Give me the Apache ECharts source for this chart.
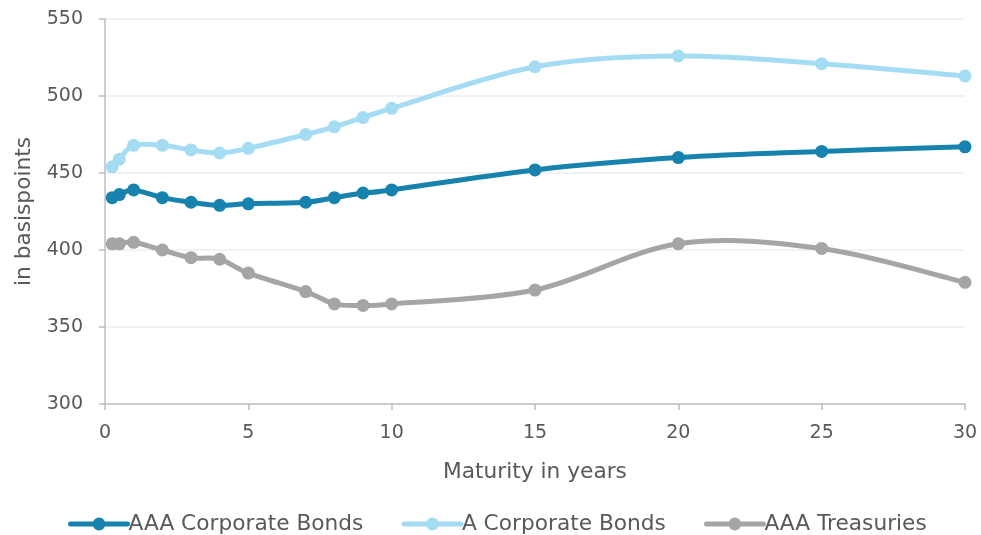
<!DOCTYPE html>
<html>
<head>
<meta charset="utf-8">
<style>
  html, body { margin: 0; padding: 0; background: #ffffff; }
  #chart { width: 981px; height: 535px; }
</style>
<script src="https://cdn.jsdelivr.net/npm/echarts@6/dist/echarts.min.js"></script>
</head>
<body>
<div id="chart"></div>
<script>
// Maturities in years (x positions of the curve points)
const maturities = [0.25, 0.5, 1, 2, 3, 4, 5, 7, 8, 9, 10, 15, 20, 25, 30];

// Yields in basis points per maturity
const aaaCorporate = [434, 436, 439, 434, 431, 429, 430, 431, 434, 437, 439, 452, 460, 464, 467];
const aCorporate   = [454, 459, 468, 468, 465, 463, 466, 475, 480, 486, 492, 519, 526, 521, 513];
const aaaTreasury  = [404, 404, 405, 400, 395, 394, 385, 373, 365, 364, 365, 374, 404, 401, 379];

const seriesNames = ['AAA Corporate Bonds', 'A Corporate Bonds', 'AAA Treasuries'];
const seriesColors = ['#1782ad', '#a3dcf3', '#a5a5a5'];
const seriesValues = [aaaCorporate, aCorporate, aaaTreasury];

const xTicks = { min: 0, max: 30, interval: 5 };
const yTicks = { min: 300, max: 550, interval: 50 };

const FONT = 'DejaVu Sans';
const TEXT = '#595959';
const AXIS = '#bfbfbf';
const LINE_W = 5;

// Catmull-Rom style curve: each item draws the segment from point i to i+1,
// with control points taken from the neighbouring points in pixel space.
function curveRenderer(values, color) {
  return function (params, api) {
    const i = params.dataIndex;
    const n = maturities.length;
    if (i >= n - 1) return null;
    const pt = k => api.coord([maturities[Math.max(0, Math.min(n - 1, k))],
                               values[Math.max(0, Math.min(n - 1, k))]]);
    const p0 = pt(i - 1), p1 = pt(i), p2 = pt(i + 1), p3 = pt(i + 2);
    const t = 1 / 6;
    return {
      type: 'bezierCurve',
      shape: {
        x1: p1[0], y1: p1[1],
        x2: p2[0], y2: p2[1],
        cpx1: p1[0] + (p2[0] - p0[0]) * t, cpy1: p1[1] + (p2[1] - p0[1]) * t,
        cpx2: p2[0] - (p3[0] - p1[0]) * t, cpy2: p2[1] - (p3[1] - p1[1]) * t
      },
      style: { stroke: color, lineWidth: LINE_W, fill: null, lineCap: 'round' }
    };
  };
}

const chart = echarts.init(document.getElementById('chart'), null, { renderer: 'canvas' });

const pointSeries = seriesNames.map((name, i) => ({
  name: name,
  type: 'line',
  z: 3,
  symbol: 'circle',
  symbolSize: 13,
  showSymbol: true,
  color: seriesColors[i],
  lineStyle: { width: LINE_W, color: seriesColors[i], opacity: 0 },
  itemStyle: { color: seriesColors[i] },
  data: maturities.map((m, j) => [m, seriesValues[i][j]])
}));

const curveSeries = seriesNames.map((name, i) => ({
  name: name,
  type: 'custom',
  z: 2,
  silent: true,
  renderItem: curveRenderer(seriesValues[i], seriesColors[i]),
  encode: { x: 0, y: 1 },
  data: maturities.map((m, j) => [m, seriesValues[i][j]])
}));

chart.setOption({
  animation: false,
  backgroundColor: '#ffffff',
  textStyle: { fontFamily: FONT },
  grid: { left: 105, right: 16, top: 19, bottom: 131, containLabel: false },
  legend: {
    bottom: -5,
    left: 63,
    itemWidth: 57,
    itemHeight: 16,
    itemGap: 38,
    textStyle: { fontFamily: FONT, fontSize: 21.7, color: TEXT, padding: [0, 0, 0, -4] },
    data: seriesNames.map((name, i) => ({
      name: name,
      lineStyle: { width: LINE_W, opacity: 1, color: seriesColors[i], cap: 'round' }
    }))
  },
  xAxis: {
    type: 'value',
    min: xTicks.min,
    max: xTicks.max,
    interval: xTicks.interval,
    name: 'Maturity in years',
    nameLocation: 'middle',
    nameGap: 57,
    nameTextStyle: { fontFamily: FONT, fontSize: 21.7, color: TEXT },
    axisLine: { show: true, lineStyle: { color: AXIS, width: 1.5 } },
    axisTick: { show: true, length: 6, lineStyle: { color: AXIS, width: 1.5 } },
    axisLabel: { fontFamily: FONT, fontSize: 19, color: TEXT, margin: 20 },
    splitLine: { show: false }
  },
  yAxis: {
    type: 'value',
    min: yTicks.min,
    max: yTicks.max,
    interval: yTicks.interval,
    name: 'in basispoints',
    nameLocation: 'middle',
    nameGap: 67,
    nameRotate: 90,
    nameTextStyle: { fontFamily: FONT, fontSize: 21.7, color: TEXT },
    axisLine: { show: true, lineStyle: { color: AXIS, width: 1.5 } },
    axisTick: { show: true, length: 6, lineStyle: { color: AXIS, width: 1.5 } },
    axisLabel: { fontFamily: FONT, fontSize: 19, color: TEXT, margin: 22 },
    splitLine: { show: true, lineStyle: { color: '#eeeeee', width: 1.5 } }
  },
  series: pointSeries.concat(curveSeries)
});
</script>
</body>
</html>
